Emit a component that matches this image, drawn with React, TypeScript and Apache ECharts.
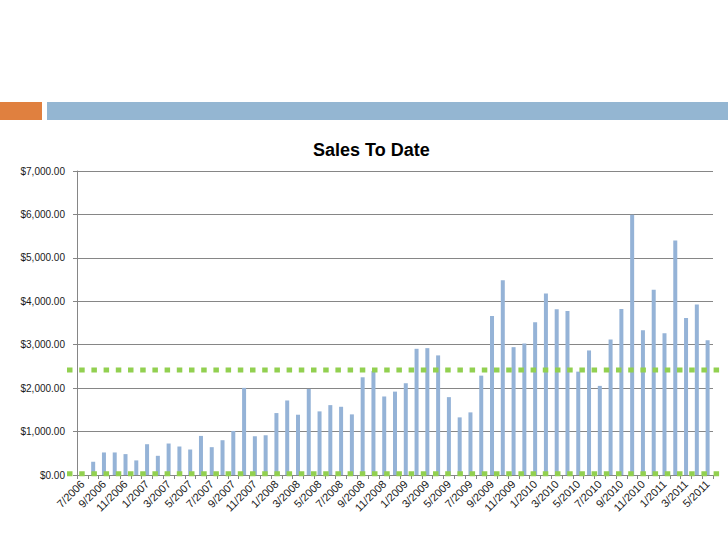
import React, { useEffect, useRef } from "react";
import * as echarts from "echarts";

const months = [
  "7/2006", "8/2006", "9/2006", "10/2006", "11/2006", "12/2006",
  "1/2007", "2/2007", "3/2007", "4/2007", "5/2007", "6/2007", "7/2007", "8/2007", "9/2007", "10/2007", "11/2007", "12/2007",
  "1/2008", "2/2008", "3/2008", "4/2008", "5/2008", "6/2008", "7/2008", "8/2008", "9/2008", "10/2008", "11/2008", "12/2008",
  "1/2009", "2/2009", "3/2009", "4/2009", "5/2009", "6/2009", "7/2009", "8/2009", "9/2009", "10/2009", "11/2009", "12/2009",
  "1/2010", "2/2010", "3/2010", "4/2010", "5/2010", "6/2010", "7/2010", "8/2010", "9/2010", "10/2010", "11/2010", "12/2010",
  "1/2011", "2/2011", "3/2011", "4/2011", "5/2011",
];

const sales = [
  0, 305, 519, 519, 481, 336, 709, 442, 725, 656, 587, 900,
  641, 801, 1014, 2006, 892, 915, 1426, 1716, 1388, 1983, 1465, 1609,
  1571, 1396, 2250, 2395, 1808, 1920, 2113, 2906, 2921, 2754, 1793, 1327,
  1442, 2288, 3661, 4485, 2944, 3028, 3516, 4180, 3814, 3776, 2380, 2868,
  2052, 3120, 3822, 5990, 3333, 4264, 3265, 5400, 3616, 3928, 3104,
];

const yMin = 0;
const yMax = 7000;
const yInterval = 1000;

// green dotted reference levels
const refLevels = [2420, 30];

export default function App() {
  const ref = useRef<HTMLDivElement>(null);
  useEffect(() => {
    if (!ref.current) return;
    const chart = echarts.init(ref.current, null, { renderer: "svg" });
    const fmt = (v: number) =>
      "$" + v.toLocaleString("en-US", { minimumFractionDigits: 2, maximumFractionDigits: 2 });
    const headerBars = [
      { type: "rect", shape: { x: 0, y: 102, width: 42, height: 18 }, style: { fill: "#E0803F" } },
      { type: "rect", shape: { x: 47, y: 102, width: 681, height: 18 }, style: { fill: "#94B6D2" } },
    ];
    chart.setOption({
      animation: false,
      backgroundColor: "#ffffff",
      textStyle: { fontFamily: "Liberation Sans, Arial, sans-serif" },
      title: {
        text: "Sales To Date",
        left: 308,
        top: 136,
        textStyle: { fontSize: 18, fontWeight: "bold", color: "#000000", fontFamily: "Liberation Sans, Arial, sans-serif" },
      },
      grid: { left: 77, right: 15, top: 171, bottom: 71, containLabel: false },
      xAxis: {
        type: "category",
        data: months,
        axisLine: { lineStyle: { color: "#868686", width: 1 } },
        axisTick: { show: true, interval: 0, length: 4, lineStyle: { color: "#868686" } },
        axisLabel: {
          interval: 1,
          rotate: 45,
          fontSize: 11,
          color: "#1a1a1a",
          margin: 7,
        },
      },
      yAxis: {
        type: "value",
        min: yMin,
        max: yMax,
        interval: yInterval,
        axisLine: { show: true, lineStyle: { color: "#868686" } },
        axisTick: { show: true, length: 4, lineStyle: { color: "#868686" } },
        splitLine: { lineStyle: { color: "#868686", width: 1 } },
        axisLabel: { formatter: fmt, fontSize: 10, color: "#1a1a1a", margin: 12 },
      },
      series: [
        {
          type: "bar",
          data: sales,
          barWidth: 4,
          itemStyle: { color: "#95B3D7" },
        },
      ],
      graphic: headerBars,
    });
    const lines = refLevels.map((v) => {
      const y = chart.convertToPixel({ yAxisIndex: 0 }, v) as number;
      return {
        type: "line",
        shape: { x1: 67, y1: y, x2: 720, y2: y },
        style: { stroke: "#92D050", lineWidth: 5, lineDash: [5.5, 6.7] },
        z: 10,
      };
    });
    chart.setOption({ graphic: [...headerBars, ...lines] });
    return () => chart.dispose();
  }, []);
  return (
    <div
      ref={ref}
      style={{ position: "fixed", left: 0, top: 0, width: 728, height: 546 }}
    />
  );
}
